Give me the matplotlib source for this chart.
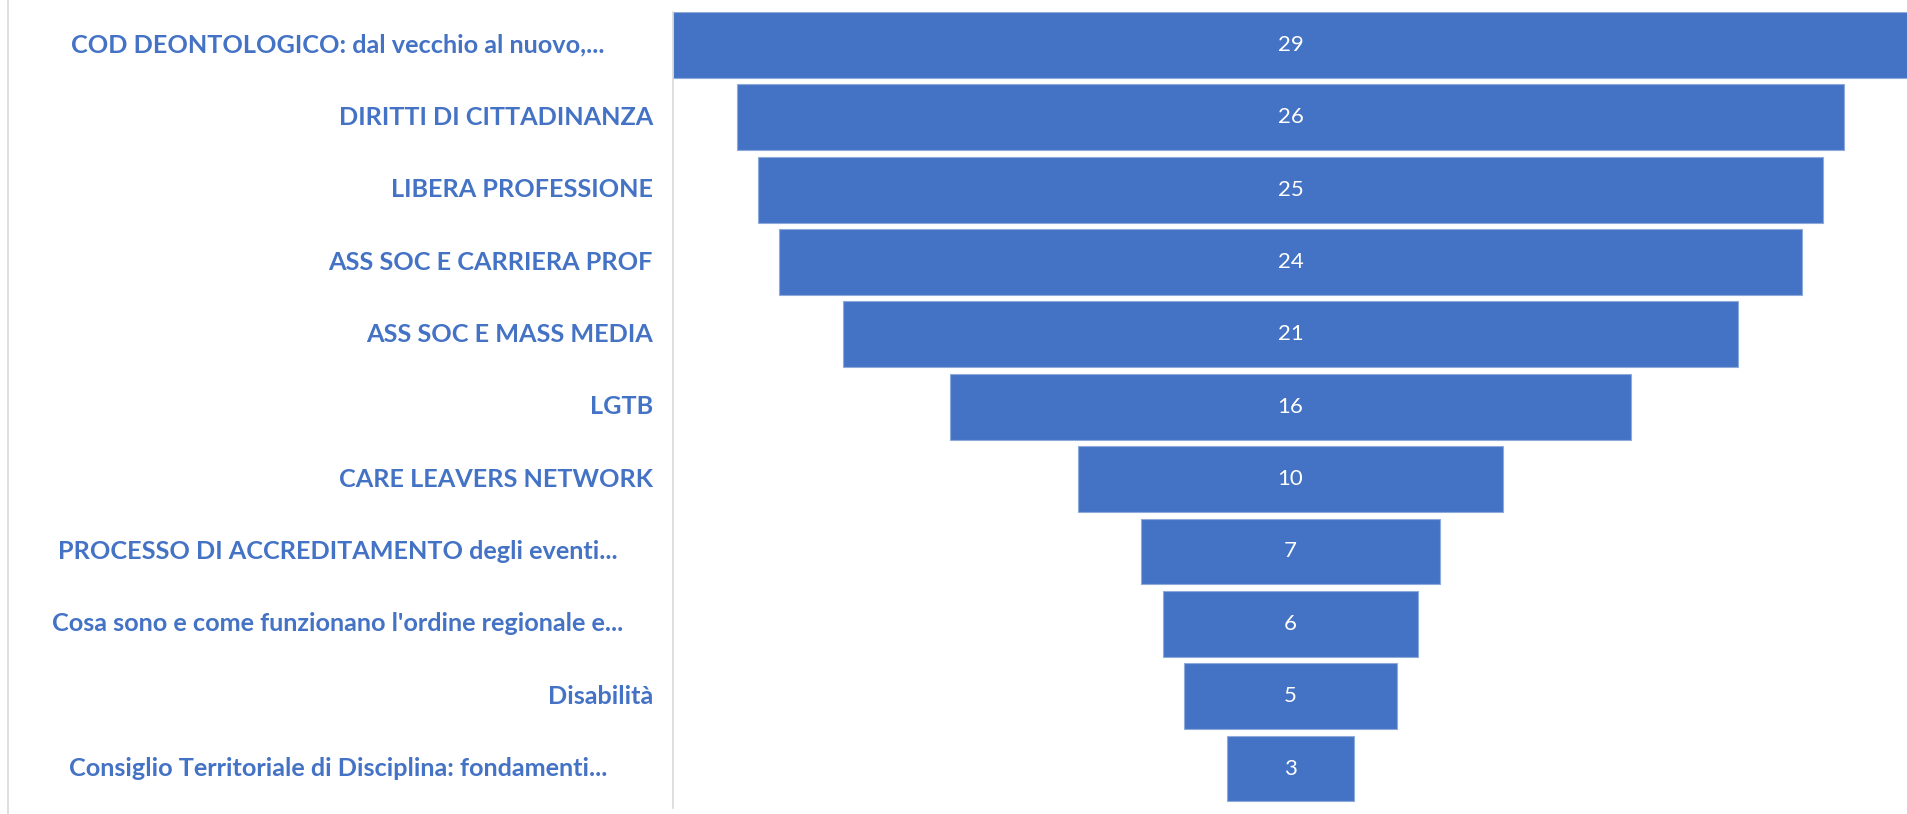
import numpy as np
import matplotlib
matplotlib.use('Agg')
import matplotlib.pyplot as plt
from matplotlib.transforms import blended_transform_factory
from matplotlib.lines import Line2D

# categories and counts, top to bottom
labels = [
    "COD DEONTOLOGICO: dal vecchio al nuovo,...",
    "DIRITTI DI CITTADINANZA",
    "LIBERA PROFESSIONE",
    "ASS SOC E CARRIERA PROF",
    "ASS SOC E MASS MEDIA",
    "LGTB",
    "CARE LEAVERS NETWORK",
    "PROCESSO DI ACCREDITAMENTO degli eventi...",
    "Cosa sono e come funzionano l'ordine regionale e...",
    "Disabilità",
    "Consiglio Territoriale di Disciplina: fondamenti...",
]
values = [29, 26, 25, 24, 21, 16, 10, 7, 6, 5, 3]

blue = '#4472C4'
plt.rcParams['font.family'] = ['Lato', 'DejaVu Sans']

fig = plt.figure(figsize=(19.08, 8.14), dpi=100)
ax = fig.add_axes([673 / 1908, 6 / 814, 1235 / 1908, 796 / 814])

vals = np.array(values, dtype=float)
y = np.arange(len(vals))
ax.barh(y, vals, left=-vals / 2, height=0.91, color=blue,
        edgecolor='#8eaadb', linewidth=0.8)

for yi, v in zip(y, values):
    ax.text(0, yi, str(v), ha='center', va='center', color='white', fontsize=16)

ax.set_xlim(-max(values) / 2, max(values) / 2)
ax.set_ylim(len(vals) - 0.455, -0.455)
ax.set_xticks([])
ax.set_yticks([])
for s in ['top', 'right', 'bottom']:
    ax.spines[s].set_visible(False)
ax.spines['left'].set_color('#d9d9d9')
ax.spines['left'].set_linewidth(1.2)

# category labels: truncated ones centred, short ones right aligned
tr = blended_transform_factory(fig.transFigure, ax.transData)
for yi, lab in zip(y, labels):
    if lab.endswith('...'):
        ax.text(338 / 1908, yi, lab, transform=tr, ha='center', va='center',
                color=blue, fontsize=18.2, fontweight='bold', clip_on=False)
    else:
        ax.text(653 / 1908, yi, lab, transform=tr, ha='right', va='center',
                color=blue, fontsize=18.2, fontweight='bold', clip_on=False)

fig.add_artist(Line2D([8 / 1908, 8 / 1908], [0, 1], transform=fig.transFigure,
                      color='#d9d9d9', linewidth=1.2))

fig.savefig('out.png', dpi=100, facecolor='white')
